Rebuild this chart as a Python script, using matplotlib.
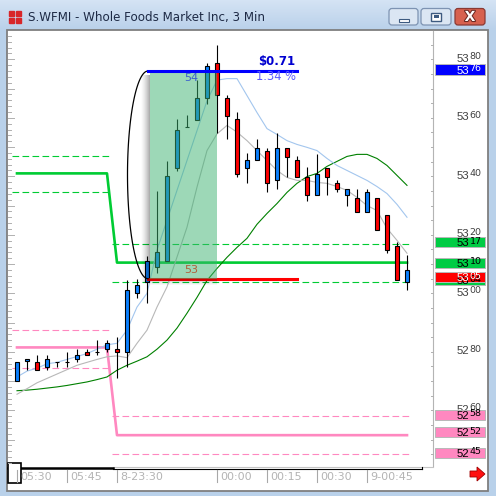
import numpy as np
import matplotlib
matplotlib.use('Agg')
import matplotlib.pyplot as plt
import matplotlib.patheffects as pe
from matplotlib.colors import to_rgb
from matplotlib.patches import Rectangle, FancyBboxPatch, Polygon
from matplotlib.transforms import blended_transform_factory as blend

W = H = 496
title = 'S.WFMI - Whole Foods Market Inc, 3 Min'

# 3 minute bars, prices in cents
opens = [5270.0, 5276.8, 5276.6, 5274.9, 5276.6, 5276.6, 5277.7, 5279.8, 5279.8, 5280.8,
         5280.9, 5279.8, 5300.1, 5304.0, 5308.9, 5311.0, 5342.8, 5357.0, 5359.1, 5366.8,
         5378.7, 5366.8, 5359.6, 5342.9, 5345.6, 5348.8, 5338.8, 5349.7, 5345.7, 5339.7,
         5333.7, 5342.8, 5337.7, 5333.7, 5332.7, 5327.8, 5332.7, 5326.9, 5316.1, 5303.9]
highs = [5276.6, 5277.7, 5278.9, 5278.9, 5276.6, 5279.8, 5281.1, 5280.9, 5284.0, 5284.0,
         5285.1, 5304.7, 5304.9, 5312.7, 5335.0, 5345.2, 5359.6, 5360.8, 5372.9, 5378.9,
         5385.0, 5367.9, 5361.9, 5347.9, 5352.8, 5349.7, 5354.9, 5349.7, 5346.8, 5343.1,
         5347.7, 5342.8, 5338.8, 5335.7, 5335.7, 5335.7, 5332.7, 5326.9, 5317.5, 5313.0]
lows = [5270.0, 5273.7, 5273.7, 5273.7, 5274.9, 5274.9, 5276.6, 5278.9, 5278.9, 5280.0,
        5270.9, 5274.7, 5298.4, 5296.8, 5307.0, 5311.0, 5341.8, 5357.0, 5359.1, 5364.8,
        5354.7, 5352.8, 5339.7, 5337.7, 5345.6, 5334.6, 5335.7, 5339.7, 5339.7, 5331.5,
        5333.7, 5333.7, 5334.6, 5329.8, 5327.8, 5327.8, 5321.8, 5313.8, 5304.4, 5301.3]
closes = [5276.6, 5277.7, 5273.7, 5277.7, 5276.6, 5276.6, 5278.9, 5278.9, 5279.8, 5282.9,
          5279.8, 5301.0, 5303.0, 5311.0, 5314.2, 5340.1, 5355.9, 5357.0, 5366.8, 5377.8,
          5367.9, 5360.5, 5340.9, 5345.7, 5349.7, 5337.7, 5349.7, 5346.5, 5339.7, 5333.7,
          5340.9, 5339.9, 5335.7, 5335.7, 5327.8, 5334.6, 5321.8, 5314.9, 5304.4, 5307.9]

# moving averages as drawn on screen
ma_fast = [5271.4, 5273.4, 5274.4, 5275.9, 5276.4, 5277.4, 5278.4, 5279.4, 5280.9, 5282.4,
           5282.9, 5287.4, 5295.3, 5300.0, 5314.8, 5325.0, 5335.2, 5345.4, 5355.6, 5365.8,
           5372.9, 5373.4, 5373.4, 5367.6, 5361.8, 5356.3, 5354.3, 5352.2, 5350.9, 5349.9,
           5348.8, 5346.1, 5343.7, 5342.0, 5340.3, 5338.6, 5336.5, 5334.1, 5330.4, 5326.0]
ma_mid = [5265.5, 5267.4, 5269.4, 5270.9, 5272.4, 5273.9, 5275.4, 5276.4, 5277.4, 5278.3,
          5278.6, 5278.0, 5282.9, 5287.4, 5295.3, 5302.2, 5312.4, 5322.6, 5336.3, 5348.8,
          5354.5, 5357.4, 5355.1, 5352.2, 5348.8, 5345.4, 5342.0, 5339.6, 5338.6, 5338.6,
          5337.9, 5337.6, 5336.5, 5335.2, 5332.8, 5330.0, 5328.3, 5322.2, 5318.1, 5313.7]
ma_slow = [5266.7, 5266.9, 5267.2, 5267.6, 5268.0, 5268.5, 5269.1, 5269.7, 5270.5, 5271.4,
           5273.7, 5275.4, 5276.8, 5278.3, 5280.9, 5284.0, 5288.1, 5293.2, 5298.6, 5304.4,
           5308.5, 5312.3, 5315.7, 5318.8, 5323.6, 5327.3, 5330.7, 5334.5, 5337.6, 5339.9,
           5341.0, 5343.4, 5345.1, 5346.8, 5347.5, 5347.5, 5346.1, 5343.7, 5340.3, 5336.9]

time_ticks = [0, 5, 10, 20, 25, 30, 35]
time_labels = ['05:30', '05:45', '8-23:30', '00:00', '00:15', '00:30', '9-00:45']
price_ticks = [5380, 5360, 5340, 5320, 5300, 5280, 5260]

# levels: (before shift_bar, from shift_bar on)
shift_bar = 10
green_main = [5341, 5310.5]
green_dash = [[5347, 5334.5], [5317, 5304]]
pink_main = [5281.5, 5251.5]
pink_dash = [[5287.5, 5274.5], [5258, 5245]]

measure_low, measure_high = 5305, 5376
measure_from, measure_box_to, measure_to = 13.1, 20.0, 28.0
bars_high, bars_low = '54', '53'

flags = [(5376, '#0000ff', 'white'), (5317, '#00cc44', 'black'), (5310, '#00cc44', 'black'),
         (5304, '#00cc44', 'black'), (5305, '#ff0000', 'white'),
         (5258, '#ff88c0', 'black'), (5252, '#ff88c0', 'black'), (5245, '#ff88c0', 'black')]


def frac(x0, y0, x1, y1):
    return [x0 / W, 1 - y1 / H, (x1 - x0) / W, (y1 - y0) / H]


fig = plt.figure(figsize=(W / 100, H / 100), dpi=100)
bg = fig.add_axes([0, 0, 1, 1])
bg.axis('off')

# window frame, title bar
bg.add_patch(Rectangle((0, 0), W, H, color='#b9d1ea', zorder=0))
top, bot = np.array(to_rgb('#d4e3f4')), np.array(to_rgb('#bad1ea'))
grad = top + np.linspace(0, 1, 30)[:, None, None] * (bot - top)
bg.imshow(grad, extent=(0, W, 30, 0), aspect='auto', zorder=0.5)
bg.add_patch(Rectangle((7, 30), 481, 461, facecolor='white', edgecolor='#7f7f7f', lw=1.3, zorder=1))
bg.text(28, 17, title, fontsize=8.6, color='#1e2a45', va='center', ha='left', zorder=2)
for dx, dy in [(0, 0), (7, 0), (0, 7), (7, 7)]:
    bg.add_patch(Rectangle((9 + dx, 11 + dy), 5, 5, color='#d8262a', zorder=2))

for x0, x1, face, edge in [(389, 418, '#dbe6f3', '#7d93b2'), (421, 451, '#dbe6f3', '#7d93b2'),
                           (455, 485, '#d7614f', '#8a3a34')]:
    bg.add_patch(FancyBboxPatch((x0, 8.5), x1 - x0, 16.5, boxstyle='round,pad=0,rounding_size=3',
                                facecolor=face, edgecolor=edge, lw=0.9, zorder=2))
bg.add_patch(Rectangle((399, 18.5), 10, 3, facecolor='white', edgecolor='#3d5a80', lw=0.8, zorder=3))
bg.add_patch(Rectangle((431, 12.5), 10, 8, facecolor='white', edgecolor='#3d5a80', lw=1.0, zorder=3))
bg.add_patch(Rectangle((433.5, 15), 5, 3, facecolor='#3d5a80', lw=0, zorder=3))
bg.text(470, 17, 'X', fontsize=10, fontweight='bold', color='white', ha='center', va='center', zorder=3,
        path_effects=[pe.withStroke(linewidth=1.5, foreground='#6b2a24')])

# frame lines of the chart
bg.plot([433, 433], [31, 466], color='#b4b4b4', lw=0.8, zorder=2)
bg.plot([113, 433], [466.5, 466.5], color='#c4c4c4', lw=0.8, zorder=2)
bg.plot([8, 113], [467.8, 467.8], color='black', lw=1.8, zorder=3)
bg.plot([113, 421.7], [469, 469], color='black', lw=0.8, zorder=3)
bg.plot([421.7, 421.7], [466.5, 469], color='black', lw=0.8, zorder=3)
bg.add_patch(Polygon([(470, 471), (477, 471), (477, 467), (485, 474), (477, 481), (477, 477), (470, 477)],
                     facecolor='#ff1010', edgecolor='#a00000', lw=0.6, zorder=3))

# price chart
ax = fig.add_axes(frac(8, 31, 433, 466))
ax.set_xlim(-0.9, 41.6)
ax.set_ylim(5240.96, 5389.68)
ax.axis('off')
idx = np.arange(len(opens))
n = len(opens)

dot = dict(s=0.45, marker='s', c='#d2d2d2', linewidths=0, zorder=1)
gx = np.arange(1, 42)
for p in price_ticks:
    ax.scatter(gx, np.full(len(gx), p), **dot)
gy = np.arange(5242, 5390, 2)
for i in [10, 20, 30, 40]:
    ax.scatter(np.full(len(gy), i), gy, **dot)
mx, my = np.meshgrid([5, 15, 25, 35], np.array(price_ticks) - 10)
ax.scatter(mx.ravel(), my.ravel(), **dot)

# axis tick dashes
tr_y = blend(bg.transData, ax.transData)
for p in range(5242, 5390, 2):
    ax.plot([8, 14 if p % 10 == 0 else 11], [p, p], color='#b0b0b0', lw=0.7, transform=tr_y, clip_on=False)
for p in range(5245, 5390, 5):
    ax.plot([430.5, 433], [p, p], color='#b0b0b0', lw=0.7, transform=tr_y, clip_on=False)

# levels
ax.plot(idx, [green_main[0]] * shift_bar + [green_main[1]] * (n - shift_bar), color='#00cc33', lw=1.9, zorder=2)
ax.plot(idx, [pink_main[0]] * shift_bar + [pink_main[1]] * (n - shift_bar), color='#ff88c0', lw=1.9, zorder=2)
seg_x = [(-0.5, shift_bar - 0.6), (shift_bar - 0.5, n - 0.6)]
for k, (x0, x1) in enumerate(seg_x):
    for v in green_dash[k]:
        ax.plot([x0, x1], [v, v], color='#00cc33', lw=0.8, ls=(0, (6, 3)), zorder=2)
    for v in pink_dash[k]:
        ax.plot([x0, x1], [v, v], color='#ff88c0', lw=0.8, ls=(0, (6, 3)), zorder=2)

# moving averages
ax.plot(idx, ma_slow, color='#008000', lw=0.8, zorder=2.5)
ax.plot(idx, ma_mid, color='#b8b8b8', lw=0.8, zorder=2.5)
ax.plot(idx, ma_fast, color='#a3c6ee', lw=0.8, zorder=2.5)

# candles
o, hi, lo, c = map(np.array, (opens, highs, lows, closes))
up = c >= o
ax.vlines(idx, lo, hi, color='black', lw=0.8, zorder=3)
ax.bar(idx, np.abs(c - o), bottom=np.minimum(o, c), width=0.45,
       color=np.where(up, '#0a80ff', '#ff0000'), edgecolor='black', linewidth=0.8, zorder=4)

# measuring tool
ax.plot([measure_from, measure_to], [measure_low] * 2, color='#ff0000', lw=2.2, zorder=4.5)
box_x = measure_from + 0.2
for k in range(9):
    ax.add_patch(Rectangle((box_x - (k + 1) * 0.1, measure_low - 1.5), 0.1, measure_high - measure_low,
                           facecolor='black', alpha=0.32 * (1 - k / 9) ** 1.5, lw=0, zorder=5))
for k in range(6):
    ax.add_patch(Rectangle((box_x, measure_low - (k + 1) * 0.35), measure_box_to - box_x, 0.35,
                           facecolor='black', alpha=0.18 * (1 - k / 6), lw=0, zorder=5))
ax.add_patch(Rectangle((box_x, measure_low), measure_box_to - box_x, measure_high - measure_low,
                       facecolor='#3cb371', alpha=0.5, lw=0, zorder=5))
t = np.linspace(0, np.pi, 120)
mid, half = (measure_high + measure_low) / 2, (measure_high - measure_low) / 2
ax.plot(measure_from - 2.05 * np.sin(t), mid + half * np.cos(t), color='black', lw=0.9, zorder=6)
ax.plot([measure_from, measure_to], [measure_high] * 2, color='#0000ff', lw=2.2, zorder=7)
ax.text(measure_from + 3.6, measure_high - 2.3, bars_high, color='#3a5fcd', fontsize=8, va='center', zorder=7)
ax.text(measure_from + 3.6, measure_low + 3.0, bars_low, color='#b0603a', fontsize=8, va='center', zorder=7)
diff = (measure_high - measure_low) / 100
ax.text(measure_to - 0.2, measure_high + 3.1, '$%.2f' % diff, color='#0000d0', fontsize=8.5,
        fontweight='bold', ha='right', va='center', zorder=7)
ax.text(measure_to - 0.1, measure_high - 2.0, '%.2f %%' % (diff / measure_low * 1e4),
        color='#5a5aff', fontsize=8.3, ha='right', va='center', zorder=7)


def price_text(p, color, z=8):
    s = '%d' % p
    ax.annotate(s[:2], (469, p), xycoords=tr_y, xytext=(0, -1.8), textcoords='offset points',
                ha='right', va='baseline', fontsize=8.2, color=color, family='Liberation Sans',
                annotation_clip=False, zorder=z)
    ax.annotate(s[2:], (469.5, p), xycoords=tr_y, xytext=(0, 0), textcoords='offset points',
                ha='left', va='baseline', fontsize=6.8, color=color, family='DejaVu Sans',
                annotation_clip=False, zorder=z)


for p in price_ticks:
    price_text(p, '#404040')
for p, face, fg in flags:
    ax.add_patch(Rectangle((435, p + 0.48 - 1.75), 50, 3.5, transform=tr_y, facecolor=face,
                           edgecolor='#b8b8b8', lw=0.7, clip_on=False, zorder=8))
    price_text(p, fg, z=9)

# time axis
tr_x = blend(ax.transData, bg.transData)
for i, lab in zip(time_ticks, time_labels):
    ax.plot([i, i], [470, 482], color='#a8a8a8', lw=0.8, transform=tr_x, clip_on=False)
    ax.annotate(lab, (i, 476.5), xycoords=tr_x, xytext=(2, 0), textcoords='offset points',
                ha='left', va='center', fontsize=8, color='#b4b4b4', annotation_clip=False)
bg.add_patch(Rectangle((8, 463), 13, 20, facecolor='white', edgecolor='black', lw=1.2, zorder=10))

bg.set_xlim(0, W)
bg.set_ylim(H, 0)
fig.savefig('out.png', dpi=100)
